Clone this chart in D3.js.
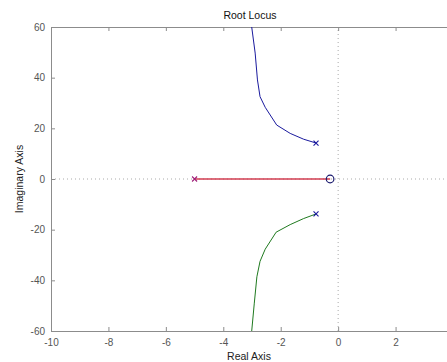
<!DOCTYPE html>
<html>
<head>
<meta charset="utf-8">
<script src="https://cdn.jsdelivr.net/npm/d3@7"></script>
<style>
  body { margin: 0; background: #fff; }
  text { font-family: "Liberation Sans", Arial, sans-serif; }
</style>
</head>
<body>
<svg id="chart" width="447" height="362"></svg>
<script>
// branch data (real, imag)
var upperRe = [-0.77, -1.2, -1.67, -2.14, -2.54, -2.72, -2.81, -2.89, -3.01];
var upperIm = [14.2, 15.7, 18, 21.3, 28.3, 32.5, 39.1, 49.7, 60];
var lowerRe = [-0.77, -1.2, -1.67, -2.16, -2.54, -2.72, -2.83, -2.92, -3.01];
var lowerIm = [-13.8, -15.6, -18, -21, -27.7, -32.5, -38.6, -49, -60];
var realRe = [-5, -0.28];
var realIm = [0, 0];
var polesRe = [-0.77, -0.77, -5];
var polesIm = [14.2, -13.8, 0];
var zerosRe = [-0.28];
var zerosIm = [0];
var xTicks = [-10, -8, -6, -4, -2, 0, 2];
var yTicks = [-60, -40, -20, 0, 20, 40, 60];

var margin = {left: 51, top: 27},
    plotW = 402, plotH = 304;

var svg = d3.select("#chart");

var x = d3.scaleLinear().domain([-10, 4]).range([margin.left, margin.left + plotW]);
var y = d3.scaleLinear().domain([-60, 60]).range([margin.top + plotH, margin.top]);

var axisColor = "#8c8c8c", labelColor = "#555";
var fmt = function(d){ return String(d); };

// dotted zero lines
svg.append("line")
  .attr("x1", x(-10)).attr("x2", x(4))
  .attr("y1", y(0)).attr("y2", y(0))
  .attr("stroke", "#aaa").attr("stroke-dasharray", "1,3");
svg.append("line")
  .attr("x1", x(0)).attr("x2", x(0))
  .attr("y1", y(-60)).attr("y2", y(60))
  .attr("stroke", "#aaa").attr("stroke-dasharray", "1,3");

// axes with inward ticks
function styleAxis(g) {
  g.select(".domain").attr("stroke", axisColor);
  g.selectAll(".tick line").attr("stroke", axisColor);
  g.selectAll(".tick text").attr("fill", labelColor).style("font-size", "10px");
}

svg.append("g")
  .attr("transform", "translate(0," + y(-60) + ")")
  .call(d3.axisBottom(x).tickValues(xTicks).tickSizeInner(-4).tickSizeOuter(0).tickPadding(8).tickFormat(fmt))
  .call(styleAxis);
svg.append("g")
  .attr("transform", "translate(0," + y(60) + ")")
  .call(d3.axisTop(x).tickValues(xTicks).tickSizeInner(-4).tickSizeOuter(0).tickFormat(""))
  .call(styleAxis);
svg.append("g")
  .attr("transform", "translate(" + x(-10) + ",0)")
  .call(d3.axisLeft(y).tickValues(yTicks).tickSizeInner(-4).tickSizeOuter(0).tickPadding(6).tickFormat(fmt))
  .call(styleAxis);
svg.append("g")
  .attr("transform", "translate(" + x(4) + ",0)")
  .call(d3.axisRight(y).tickValues(yTicks).tickSizeInner(-4).tickSizeOuter(0).tickFormat(""))
  .call(styleAxis);

// branches
var line = d3.line().x(function(d){ return x(d[0]); }).y(function(d){ return y(d[1]); });
function zipPts(a, b) { return a.map(function(v, i){ return [v, b[i]]; }); }

svg.append("path").datum(zipPts(upperRe, upperIm))
  .attr("d", line)
  .attr("fill", "none").attr("stroke", "#1a1a9e").attr("stroke-width", 1);
svg.append("path").datum(zipPts(lowerRe, lowerIm))
  .attr("d", line)
  .attr("fill", "none").attr("stroke", "#1f7a1f").attr("stroke-width", 1);
svg.append("path").datum(zipPts(realRe, realIm))
  .attr("d", line)
  .attr("fill", "none").attr("stroke", "#d23c50").attr("stroke-width", 1.3);

// poles (x) and zeros (o)
var poles = zipPts(polesRe, polesIm);
svg.selectAll(".pole").data(poles).enter().append("path")
  .attr("class", "pole")
  .attr("transform", function(d){ return "translate(" + x(d[0]) + "," + y(d[1]) + ")"; })
  .attr("d", "M-2.5,-2.5L2.5,2.5M-2.5,2.5L2.5,-2.5")
  .attr("stroke", function(d, i){ return i == 2 ? "#a0207a" : "#1a1a9e"; })
  .attr("stroke-width", 1.1);

svg.selectAll(".zero").data(zipPts(zerosRe, zerosIm)).enter().append("circle")
  .attr("class", "zero")
  .attr("cx", function(d){ return x(d[0]); })
  .attr("cy", function(d){ return y(d[1]); })
  .attr("r", 3.8)
  .attr("fill", "none").attr("stroke", "#1a1a6e").attr("stroke-width", 1.2);

// labels
svg.append("text")
  .attr("x", 250).attr("y", 19)
  .attr("text-anchor", "middle").style("font-size", "10.5px").attr("fill", "#111")
  .text("Root Locus");
svg.append("text")
  .attr("x", 249).attr("y", 360)
  .attr("text-anchor", "middle").style("font-size", "10.5px").attr("fill", "#222")
  .text("Real Axis");
svg.append("text")
  .attr("transform", "translate(23," + y(0) + ") rotate(-90)")
  .attr("text-anchor", "middle").style("font-size", "10.5px").attr("fill", "#222")
  .text("Imaginary Axis");
</script>
</body>
</html>
